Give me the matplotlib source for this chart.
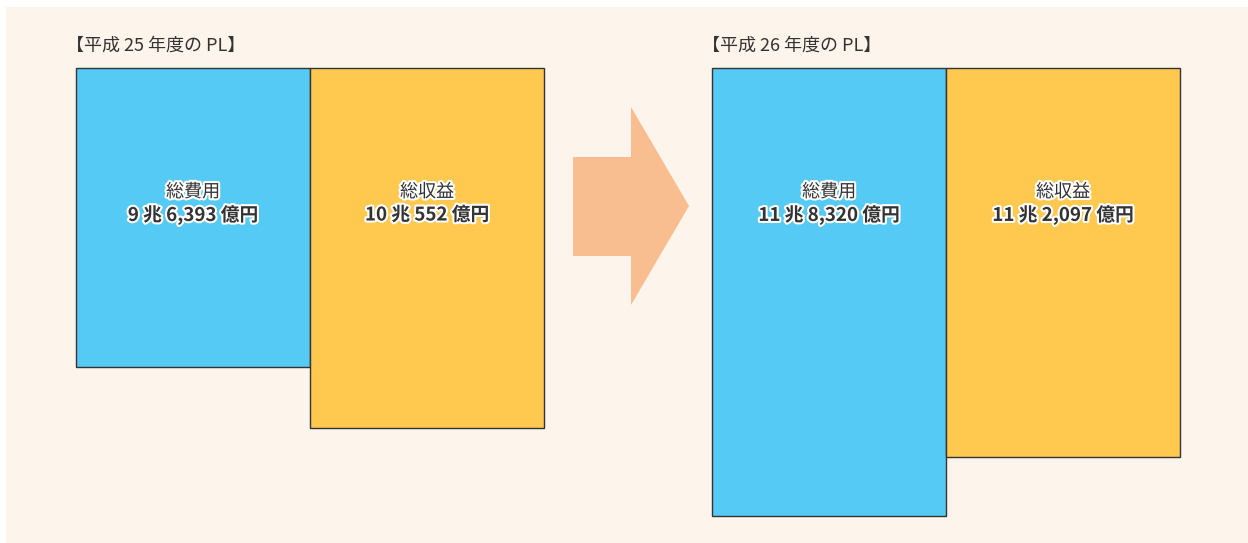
import matplotlib
matplotlib.use("Agg")
import matplotlib.pyplot as plt
import matplotlib.patheffects as pe
from matplotlib.patches import Rectangle, Polygon

plt.rcParams['font.family'] = ['Noto Sans CJK JP', 'DejaVu Sans']

# データ
years = ["【平成 25 年度の PL】", "【平成 26 年度の PL】"]
item_names = ["総費用", "総収益"]
value_labels = [["9 兆 6,393 億円", "10 兆 552 億円"],
                ["11 兆 8,320 億円", "11 兆 2,097 億円"]]
box_heights = [[299, 360],   # 平成25年度: 総費用, 総収益 (図上の高さ)
               [448, 389]]   # 平成26年度

# 図の設定
W, H = 1248, 543
fig = plt.figure(figsize=(W / 100, H / 100), dpi=100)
ax = fig.add_axes([0, 0, 1, 1])
ax.set_xlim(0, W)
ax.set_ylim(H, 0)
ax.axis("off")

bg = "#fdf4eb"
blue = "#55caf5"
orange = "#ffc84f"
arrow_col = "#f9be8f"
text_col = "#333333"

ax.add_patch(Rectangle((6, 7), W - 6, H - 7, facecolor=bg, edgecolor="none", zorder=0))

panel_left = [76, 712]
box_w = 234
top = 68
colors = [blue, orange]
outline = [pe.withStroke(linewidth=3, foreground="white")]

for p in range(2):
    x0 = panel_left[p]
    lefts = [x0, x0 + box_w]
    ax.bar(lefts, box_heights[p], width=box_w, bottom=top, align="edge",
           color=colors, edgecolor=text_col, linewidth=1.0, zorder=2)
    ax.text(x0 - 10, 46, years[p], fontsize=13, color=text_col,
            ha="left", va="center", zorder=3)
    for i in range(2):
        cx = lefts[i] + box_w / 2
        ax.text(cx, 192, item_names[i], fontsize=13, color=text_col,
                ha="center", va="center", path_effects=outline, zorder=3)
        ax.text(cx, 215, value_labels[p][i], fontsize=13.5, color=text_col,
                fontweight="bold", ha="center", va="center",
                path_effects=outline, zorder=3)

# 矢印
arrow = Polygon([(573, 157), (631, 157), (631, 107), (689, 206),
                 (631, 305), (631, 256), (573, 256)],
                closed=True, facecolor=arrow_col, edgecolor="none", zorder=1)
ax.add_patch(arrow)

fig.savefig("out.png", dpi=100, facecolor="white")
